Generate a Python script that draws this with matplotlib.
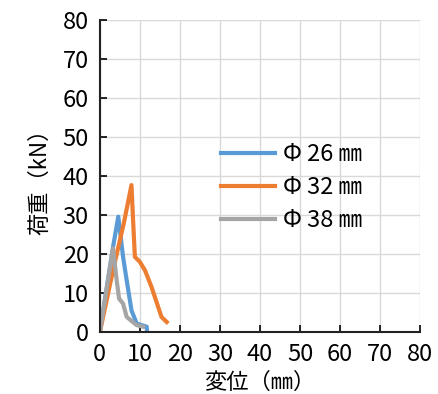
import matplotlib
matplotlib.use('Agg')
import matplotlib.pyplot as plt

plt.rcParams['font.family'] = ['Liberation Sans Narrow', 'Noto Sans CJK JP', 'DejaVu Sans']

# 荷重-変位 curves
disp_26 = [0, 1.5, 3.3, 4.6, 5.8, 6.7, 7.9, 9.2, 11.7, 11.8]
load_26 = [0, 10, 21.9, 29.6, 19.3, 13.3, 5.6, 2.2, 1.4, 0.1]

disp_32 = [0, 3.3, 6.0, 7.9, 8.3, 8.75, 10.0, 11.25, 12.9, 15.4, 16.7]
load_32 = [0, 15.9, 28.0, 37.7, 28.7, 19.3, 18.0, 15.9, 11.6, 3.9, 2.6]

disp_38 = [0, 3.3, 4.2, 4.8, 5.8, 6.7, 9.2, 10.8]
load_38 = [0, 21.5, 13.3, 8.6, 7.3, 3.9, 1.8, 1.4]

labels = ['Φ 26 ㎜', 'Φ 32 ㎜', 'Φ 38 ㎜']
colors = ['#5B9BD5', '#ED7D31', '#A5A5A5']
ticks = [0, 10, 20, 30, 40, 50, 60, 70, 80]

fig = plt.figure(figsize=(4.38, 3.94), dpi=100)
ax = fig.add_axes([0.228, 0.157, 0.731, 0.792])

for x, y, lab, c in zip([disp_26, disp_32, disp_38], [load_26, load_32, load_38], labels, colors):
    ax.plot(x, y, color=c, lw=3, label=lab)

ax.set_xlim(0, 80)
ax.set_ylim(0, 80)
ax.set_xticks(ticks)
ax.set_yticks(ticks)
ax.grid(True, color='#d9d9d9', lw=1)
ax.set_axisbelow(True)
ax.tick_params(direction='in', length=5, width=1.2, labelsize=17, pad=8)
for s in ['top', 'right']:
    ax.spines[s].set_visible(False)
for s in ['left', 'bottom']:
    ax.spines[s].set_linewidth(1.5)
    ax.spines[s].set_color('#222222')

ax.set_xlabel('変位（㎜）', fontsize=16, family=['Noto Sans CJK JP'], labelpad=3)
ax.set_ylabel('荷重（kN）', fontsize=16, family=['Noto Sans CJK JP'], labelpad=8)

leg = ax.legend(loc='upper left', bbox_to_anchor=(0.378, 0.605), frameon=False,
                prop={'family': ['Liberation Sans Narrow', 'Noto Sans CJK JP'], 'size': 17},
                handlelength=2.3, labelspacing=0.42, handletextpad=0.35,
                borderpad=0, borderaxespad=0)

fig.savefig('out.png', dpi=100)
